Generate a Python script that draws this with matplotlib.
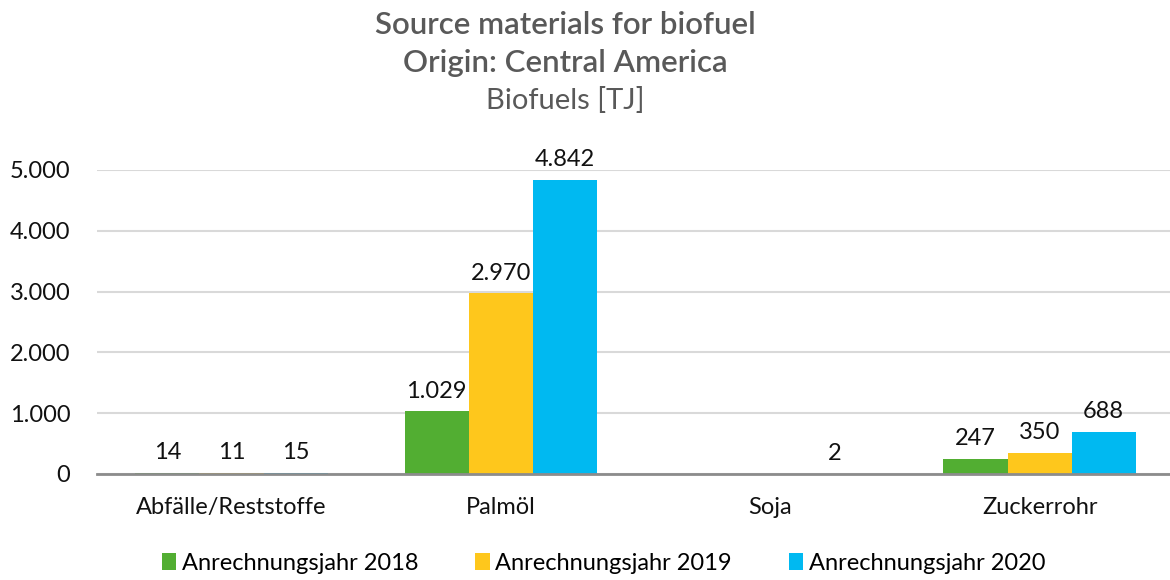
import numpy as np
import matplotlib.pyplot as plt

# data (TJ)
categories = ['Abfälle/Reststoffe', 'Palmöl', 'Soja', 'Zuckerrohr']
series = ['Anrechnungsjahr 2018', 'Anrechnungsjahr 2019', 'Anrechnungsjahr 2020']
vals_2018 = [14, 1029, np.nan, 247]
vals_2019 = [11, 2970, np.nan, 350]
vals_2020 = [15, 4842, 2, 688]
colors = ['#52AE32', '#FEC71C', '#00B9F1']
yticks = [0, 1000, 2000, 3000, 4000, 5000]


def de_fmt(v):
    # German thousands separator
    return f'{int(round(v)):,}'.replace(',', '.')


plt.rcParams['font.family'] = ['Lato', 'DejaVu Sans']

fig = plt.figure(figsize=(11.7, 5.8), dpi=100)
ax = fig.add_axes([0.0827, 0.183, 0.921, 0.524])

x = np.arange(len(categories))
w = 0.238
for i, (vals, col, name) in enumerate(zip([vals_2018, vals_2019, vals_2020], colors, series)):
    pos = x + (i - 1) * w
    ax.bar(pos, vals, width=w, color=col, label=name, zorder=3)
    for p, v in zip(pos, vals):
        if np.isnan(v):
            continue
        ax.annotate(de_fmt(v), (p, v), xytext=(0, 7), textcoords='offset points',
                    ha='center', va='bottom', fontsize=17, color='#111111',
                    annotation_clip=False)

ax.set_xlim(-0.5, len(categories) - 0.5)
ax.set_ylim(0, 5000)
ax.set_yticks(yticks)
ax.set_yticklabels([de_fmt(t) for t in yticks], fontsize=17)
ax.set_xticks(x)
ax.set_xticklabels(categories, fontsize=17)
ax.tick_params(axis='both', length=0, colors='#111111')
ax.tick_params(axis='y', pad=19)
ax.tick_params(axis='x', pad=17)

ax.grid(axis='y', color='#D9D9D9', linewidth=1.5, zorder=0)
for s in ['top', 'right', 'left']:
    ax.spines[s].set_visible(False)
ax.spines['bottom'].set_color('#8C8C8C')
ax.spines['bottom'].set_linewidth(2)
ax.spines['bottom'].set_zorder(4)

fig.text(0.483, 0.957, 'Source materials for biofuel', ha='center', va='center',
         fontsize=22.5, color='#595959', fontweight='semibold')
fig.text(0.483, 0.892, 'Origin: Central America', ha='center', va='center',
         fontsize=22.5, color='#595959', fontweight='semibold')
fig.text(0.483, 0.827, 'Biofuels [TJ]', ha='center', va='center',
         fontsize=21, color='#595959')

ax.legend(loc='center', bbox_to_anchor=(0.516, 0.029), bbox_transform=fig.transFigure,
          ncol=3, frameon=False, fontsize=17, handlelength=0.6, handleheight=0.75,
          handletextpad=0.25, columnspacing=2.4)

fig.savefig('out.png', dpi=100)
